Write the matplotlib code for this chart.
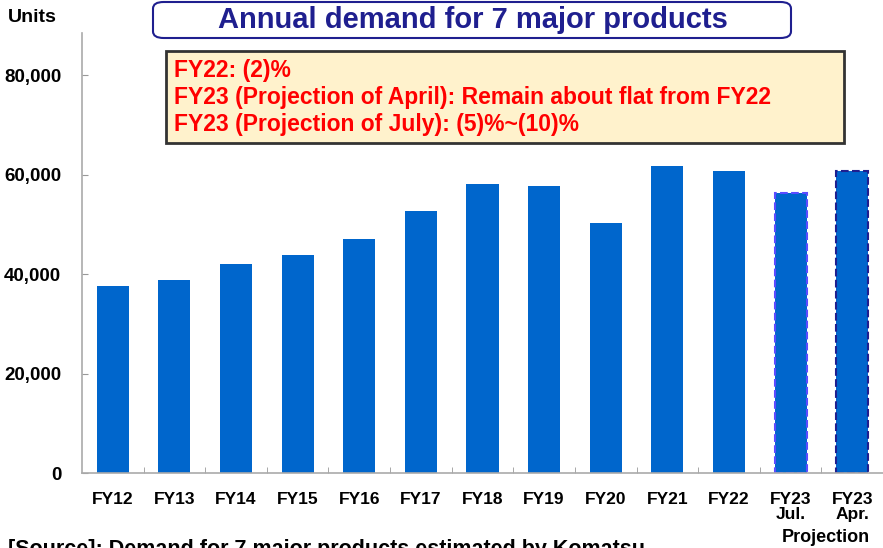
import matplotlib.pyplot as plt
from matplotlib.patches import FancyBboxPatch

# data
anni = ["FY12", "FY13", "FY14", "FY15", "FY16", "FY17", "FY18",
        "FY19", "FY20", "FY21", "FY22", "FY23\nJul.", "FY23\nApr."]
unita = [37700, 38900, 42100, 43800, 47000, 52600, 58100,
         57700, 50200, 61800, 60800, 56400, 60800]
righe_nota = ["FY22: (2)%",
              "FY23 (Projection of April): Remain about flat from FY22",
              "FY23 (Projection of July): (5)%~(10)%"]

plt.rcParams['font.family'] = ['Liberation Sans', 'DejaVu Sans']

blu = "#0066CC"

fig = plt.figure(figsize=(8.83, 5.48), dpi=100)
ax = fig.add_axes([82/883, 75/548, 801/883, 440/548])

colori_bordo = [blu]*11 + ["#5B4CFF", "#1F1F8F"]
stili = ["solid"]*11 + ["--", "--"]
for i, v in enumerate(unita):
    ax.bar(i, v, width=0.52, color=blu, edgecolor=colori_bordo[i],
           linestyle=stili[i], linewidth=1.5 if i >= 11 else 0, zorder=2)

ax.set_xlim(-0.5, 801/62 - 0.5)
ax.set_ylim(0, 88500)
ax.set_yticks([0, 20000, 40000, 60000, 80000])
ax.set_yticklabels(["0", "20,000", "40,000", "60,000", "80,000"],
                   fontsize=13.5, fontweight="bold")
ax.set_xticks(range(len(anni)))
ax.set_xticklabels(anni, fontsize=12.5, fontweight="bold",
                   linespacing=0.95, va="top")
ax.set_xticks([i + 0.5 for i in range(len(anni))], minor=True)
ax.tick_params(axis="x", which="major", length=0, pad=14)
ax.tick_params(axis="x", which="minor", direction="in", length=4, color="#999999")
ax.tick_params(axis="y", direction="in", length=4, color="#999999", pad=15)

for s in ["top", "right"]:
    ax.spines[s].set_visible(False)
for s in ["left", "bottom"]:
    ax.spines[s].set_color("#AAAAAA")
    ax.spines[s].set_linewidth(1.2)

# titolo con riquadro arrotondato
fig.patches.append(FancyBboxPatch((153/883, 1 - 38/548), 638/883, 36/548,
                                  boxstyle="round,pad=0,rounding_size=0.012",
                                  transform=fig.transFigure, facecolor="white",
                                  edgecolor="#1F1F8F", linewidth=1.5))
fig.text(473/883, 1 - 20/548, "Annual demand for 7 major products",
         ha="center", va="center", fontsize=21, fontweight="bold",
         color="#1F1F8F")

# nota
fig.patches.append(plt.Rectangle((166/883, 1 - 143/548), 678/883, 92/548,
                                 transform=fig.transFigure, facecolor="#FFF2CC",
                                 edgecolor="#333333", linewidth=2))
for k, riga in enumerate(righe_nota):
    fig.text(174/883, 1 - (70 + 27.5*k)/548, riga, ha="left", va="center",
             fontsize=16.5, fontweight="bold", color="#FF0000")

fig.text(8/883, 1 - 18/548, "Units", ha="left", va="center",
         fontsize=14, fontweight="bold")
fig.text(826/883, 1 - 538/548, "Projection", ha="center", va="center",
         fontsize=13, fontweight="bold")
fig.text(8/883, 1 - 550/548, "[Source]: Demand for 7 major products estimated by Komatsu",
         ha="left", va="center", fontsize=15.5, fontweight="bold")

fig.savefig("out.png", dpi=100)
